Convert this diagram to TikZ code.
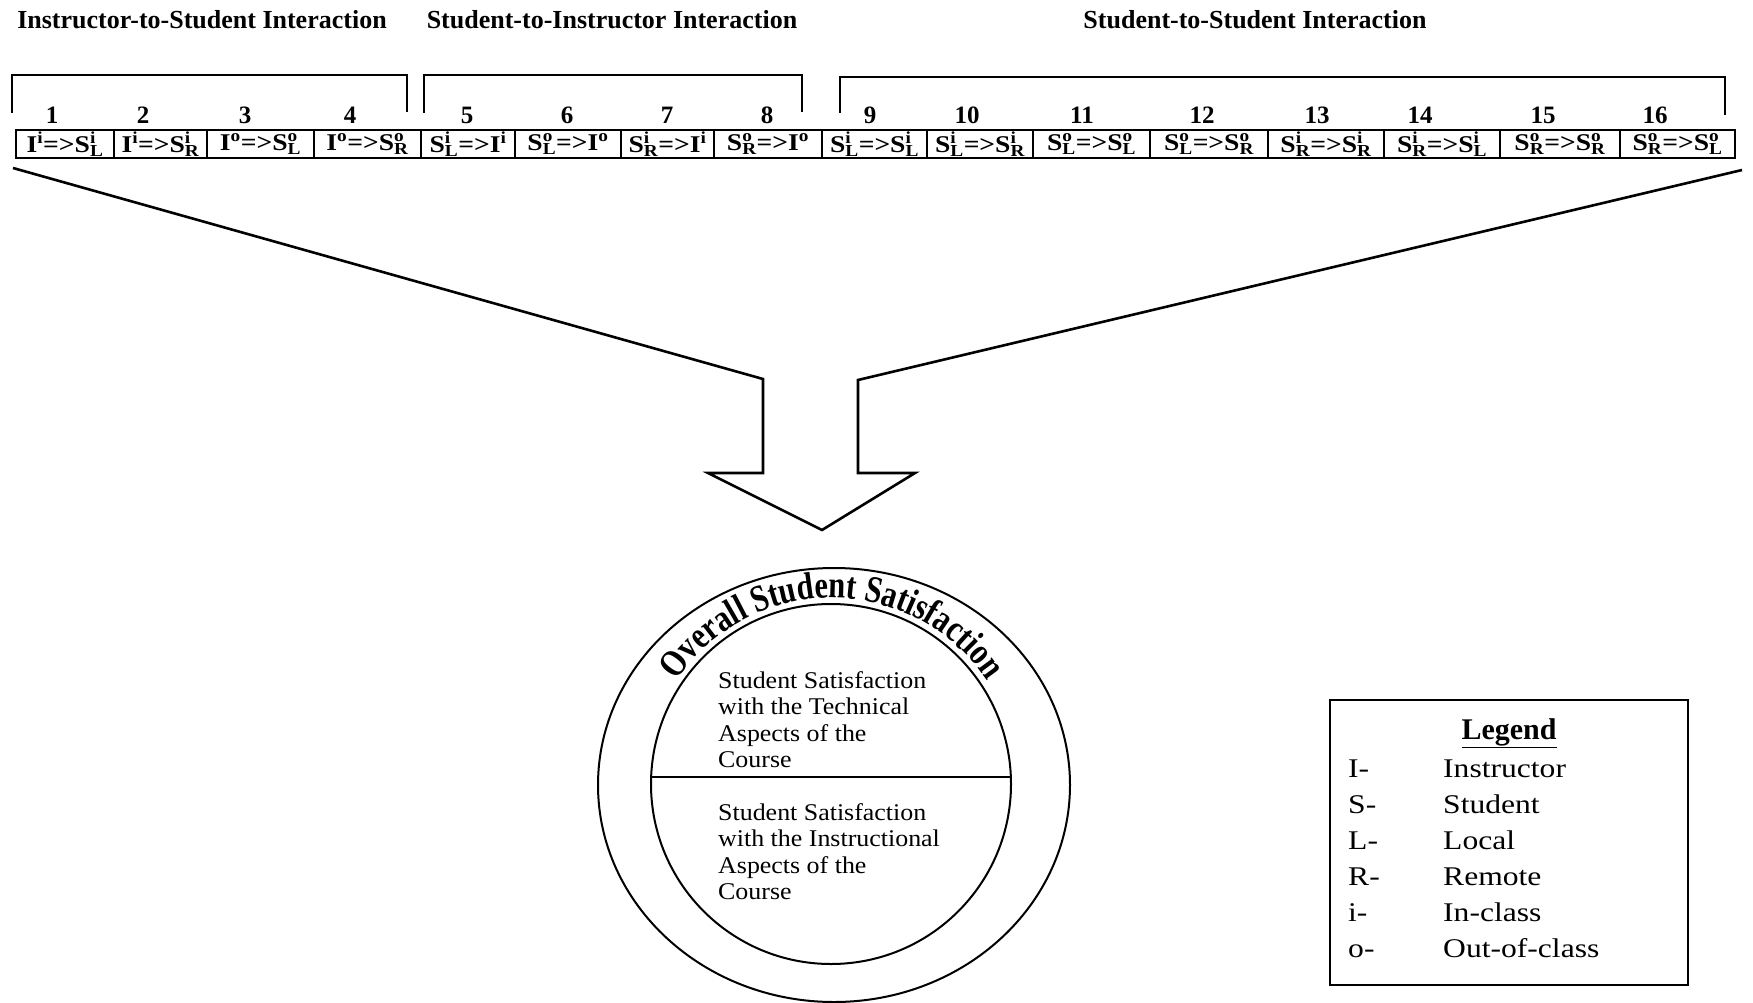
\documentclass[tikz,border=0pt]{standalone}
\usepackage{fontspec}
\setmainfont{Liberation Serif}
\newfontfamily\boxfont[FakeStretch=1.15]{Liberation Serif}
\newfontfamily\widefont[FakeStretch=1.08]{Liberation Serif}
\newfontfamily\legfont[FakeStretch=1.17]{Liberation Serif}
\newfontfamily\tallfont[FakeStretch=0.8]{Liberation Serif}
\usetikzlibrary{decorations.text}
\newcommand\sps[2]{\rlap{\textsuperscript{#1}}\textsubscript{#2}}
\newcommand\arcfont{\tallfont\bfseries\fontsize{38}{38}\selectfont}
\tikzset{
  cell/.style={draw, line width=1.6pt, minimum height=28pt, inner sep=0pt,
    font=\boxfont\bfseries\fontsize{24}{24}\selectfont},
  num/.style={inner sep=0pt, anchor=base, font=\bfseries\fontsize{25}{25}\selectfont},
  ttl/.style={inner sep=0pt, anchor=base, font=\bfseries\fontsize{26}{26}\selectfont},
  brk/.style={line width=2.4pt},
  funnel/.style={line width=2.6pt, line join=miter},
  ring/.style={line width=2pt},
  ctext/.style={inner sep=0pt, anchor=north west, align=left,
    font=\widefont\fontsize{24}{26.5}\selectfont},
  leg/.style={inner sep=0pt, anchor=base west, font=\legfont\fontsize{27}{27}\selectfont}
}
\begin{document}
\begin{tikzpicture}[x=1pt,y=-1pt]
\useasboundingbox[fill=white] (0,0) rectangle (1753,1003);

% titles
\node[ttl] (t1) at (202,29) {Instructor-to-Student Interaction};
\node[ttl] (t2) at (612,29) {Student-to-Instructor Interaction};
\node[ttl] (t3) at (1255,29) {Student-to-Student Interaction};

% brackets
\draw[brk] (12,113) -- (12,75) -- (407,75) -- (407,112);
\draw[brk] (424,113) -- (424,75) -- (802,75) -- (802,112);
\draw[brk] (840,113) -- (840,77) -- (1725,77) -- (1725,115);

% numbers
\node[num] (n1) at (52,124) {1};
\node[num] (n2) at (143,124) {2};
\node[num] (n3) at (245,124) {3};
\node[num] (n4) at (350,124) {4};
\node[num] (n5) at (467,124) {5};
\node[num] (n6) at (567,124) {6};
\node[num] (n7) at (667,124) {7};
\node[num] (n8) at (767,124) {8};
\node[num] (n9) at (870,124) {9};
\node[num] (n10) at (967,124) {10};
\node[num] (n11) at (1082,124) {11};
\node[num] (n12) at (1202,124) {12};
\node[num] (n13) at (1317,124) {13};
\node[num] (n14) at (1420,124) {14};
\node[num] (n15) at (1543,124) {15};
\node[num] (n16) at (1655,124) {16};

% boxes
\node[cell, minimum width=98pt] (b1) at (65,144) {I\textsuperscript{i}=>S\sps{i}{L}};
\node[cell, minimum width=93pt] (b2) at (160.5,144) {I\textsuperscript{i}=>S\sps{i}{R}};
\node[cell, minimum width=107pt] (b3) at (260.5,144) {I\textsuperscript{o}=>S\sps{o}{L}};
\node[cell, minimum width=107pt] (b4) at (367.5,144) {I\textsuperscript{o}=>S\sps{o}{R}};
\node[cell, minimum width=94pt] (b5) at (468,144) {S\sps{i}{L}=>I\textsuperscript{i}};
\node[cell, minimum width=106pt] (b6) at (568,144) {S\sps{o}{L}=>I\textsuperscript{o}};
\node[cell, minimum width=93pt] (b7) at (667.5,144) {S\sps{i}{R}=>I\textsuperscript{i}};
\node[cell, minimum width=108pt] (b8) at (768,144) {S\sps{o}{R}=>I\textsuperscript{o}};
\node[cell, minimum width=105pt] (b9) at (874.5,144) {S\sps{i}{L}=>S\sps{i}{L}};
\node[cell, minimum width=106pt] (b10) at (980,144) {S\sps{i}{L}=>S\sps{i}{R}};
\node[cell, minimum width=117pt] (b11) at (1091.5,144) {S\sps{o}{L}=>S\sps{o}{L}};
\node[cell, minimum width=118pt] (b12) at (1209,144) {S\sps{o}{L}=>S\sps{o}{R}};
\node[cell, minimum width=116pt] (b13) at (1326,144) {S\sps{i}{R}=>S\sps{i}{R}};
\node[cell, minimum width=116pt] (b14) at (1442,144) {S\sps{i}{R}=>S\sps{i}{L}};
\node[cell, minimum width=120pt] (b15) at (1560,144) {S\sps{o}{R}=>S\sps{o}{R}};
\node[cell, minimum width=115pt] (b16) at (1677.5,144) {S\sps{o}{R}=>S\sps{o}{L}};

% funnel arrow
\coordinate (fl) at (13,168);
\coordinate (fr) at (1742,170);
\coordinate (sl) at (763,379);
\coordinate (sr) at (858,380);
\coordinate (il) at (763,473);
\coordinate (ir) at (858,473);
\coordinate (wl) at (708,473);
\coordinate (wr) at (915,473);
\coordinate (tip) at (822,530);
\draw[funnel] (fl) -- (sl) -- (il) -- (wl) -- (tip) -- (wr) -- (ir) -- (sr) -- (fr);

% circles
\draw[ring] (834,785) ellipse [x radius=236, y radius=217];
\draw[ring] (831,784) circle [radius=180];
\coordinate (dl) at (652,777);
\coordinate (dr) at (1010,777);
\draw[ring] (dl) -- (dr);
\path[decorate, decoration={text along path, text align=center,
   text={|\arcfont|Overall Student Satisfaction}}]
   (832,785) ++(-165:187) arc [start angle=-165, end angle=-15, radius=187];

\node[ctext] (tech) at (718,671) {Student Satisfaction\\with the Technical\\Aspects of the\\Course};
\node[ctext] (inst) at (718,803) {Student Satisfaction\\with the Instructional\\Aspects of the\\Course};

% legend
\node[draw, line width=1.6pt, minimum width=358pt, minimum height=285pt, inner sep=0pt] (legend) at (1509,842.5) {};
\node[inner sep=0pt, anchor=base, font=\bfseries\fontsize{30}{30}\selectfont] (lt) at (1509,739) {\underline{Legend}};
\node[leg] (k1) at (1348,777) {I-};
\node[leg] (v1) at (1443,777) {Instructor};
\node[leg] (k2) at (1348,813) {S-};
\node[leg] (v2) at (1443,813) {Student};
\node[leg] (k3) at (1348,849) {L-};
\node[leg] (v3) at (1443,849) {Local};
\node[leg] (k4) at (1348,885) {R-};
\node[leg] (v4) at (1443,885) {Remote};
\node[leg] (k5) at (1348,921) {i-};
\node[leg] (v5) at (1443,921) {In-class};
\node[leg] (k6) at (1348,957) {o-};
\node[leg] (v6) at (1443,957) {Out-of-class};
\end{tikzpicture}
\end{document}
